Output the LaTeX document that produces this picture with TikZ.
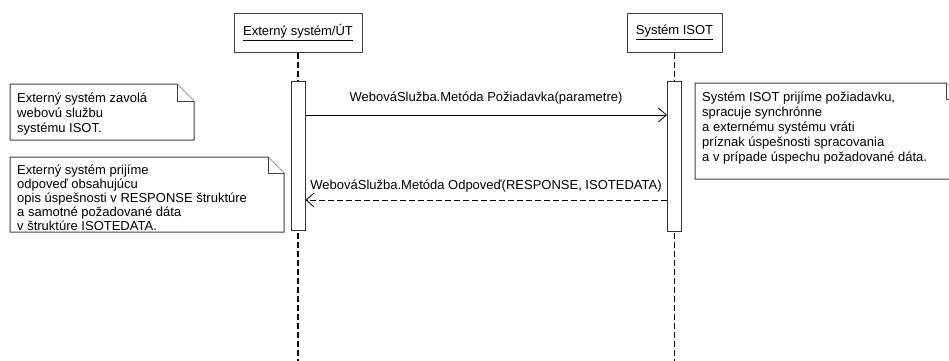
\documentclass[tikz,border=0pt]{standalone}
\usepackage{fontspec}
\setmainfont{Liberation Sans}
\usetikzlibrary{arrows.meta}
\begin{document}
\begin{tikzpicture}[x=1pt,y=-1pt,
  txt/.style={font=\fontsize{13}{15}\selectfont, inner sep=0pt, align=left},
  txtb/.style={font=\fontsize{13}{14}\selectfont, inner sep=0pt, align=left},
  headbox/.style={draw=black!75, line width=1pt, fill=white, minimum height=39pt, inner sep=0pt, font=\fontsize{13}{15}\selectfont},
  lifeline/.style={line width=1.6pt, dash pattern=on 6pt off 3pt},
  actbar/.style={draw=black!80, line width=1pt, fill=white, minimum width=14pt, minimum height=149pt, inner sep=0pt, anchor=north},
  note/.style={draw=black!75, line width=1pt, fill=white, line join=miter},
  msg/.style={line width=0.8pt, -{Straight Barb[length=8pt,width=14pt]}},
  reply/.style={msg, dash pattern=on 6pt off 3pt}
]
\useasboundingbox (0,0) rectangle (949,360);
\fill[white] (0,0) rectangle (949,360);

% lifelines
\node[headbox, minimum width=128pt] (ext) at (298,32.5) {\underline{Externý systém/ÚT}};
\node[headbox, minimum width=95pt] (isot) at (674.5,32.5) {\underline{Systém ISOT}};
\coordinate (extend) at (298,362);
\coordinate (isotend) at (674.5,362);
\draw[lifeline] (ext.south) -- (extend);
\draw[lifeline] (isot.south) -- (isotend);

% activation bars
\node[actbar] (bar1) at (298,81) {};
\node[actbar, minimum height=150pt] (bar2) at (674.5,81) {};

% messages
\coordinate (m1) at (0,115);
\coordinate (m2) at (0,200);
\draw[msg] (bar1.east |- m1) -- (bar2.west |- m1);
\node[txt, anchor=base] (m1lab) at (486,101) {WebováSlužba.Metóda Požiadavka(parametre)};
\draw[reply] (bar2.west |- m2) -- (bar1.east |- m2);
\node[txt, anchor=base] (m2lab) at (486,189) {WebováSlužba.Metóda Odpoveď(RESPONSE, ISOTEDATA)};

% note 1
\draw[note] (10,84) -- (177,84) -- (194,101) -- (194,140) -- (10,140) -- cycle;
\draw[note] (177,84) -- (177,101) -- (194,101);
\node[txt, anchor=north west] (n1) at (17,93) {Externý systém zavolá\\webovú službu\\systému ISOT.};

% note 2
\draw[note] (10,157) -- (268,157) -- (284,173) -- (284,232) -- (10,232) -- cycle;
\draw[note] (268,157) -- (268,173) -- (284,173);
\node[txtb, anchor=north west] (n2) at (17,164.5) {Externý systém prijíme\\odpoveď obsahujúcu\\opis úspešnosti v RESPONSE štruktúre\\a samotné požadované dáta\\v štruktúre ISOTEDATA.};

% note 3
\draw[note] (695,83) -- (946,83) -- (962,99) -- (962,179) -- (695,179) -- cycle;
\draw[note] (946,83) -- (946,99) -- (962,99);
\node[txt, anchor=north west] (n3) at (702,92) {Systém ISOT prijíme požiadavku,\\spracuje synchrónne\\a externému systému vráti\\príznak úspešnosti spracovania\\a v prípade úspechu požadované dáta.};
\end{tikzpicture}
\end{document}
